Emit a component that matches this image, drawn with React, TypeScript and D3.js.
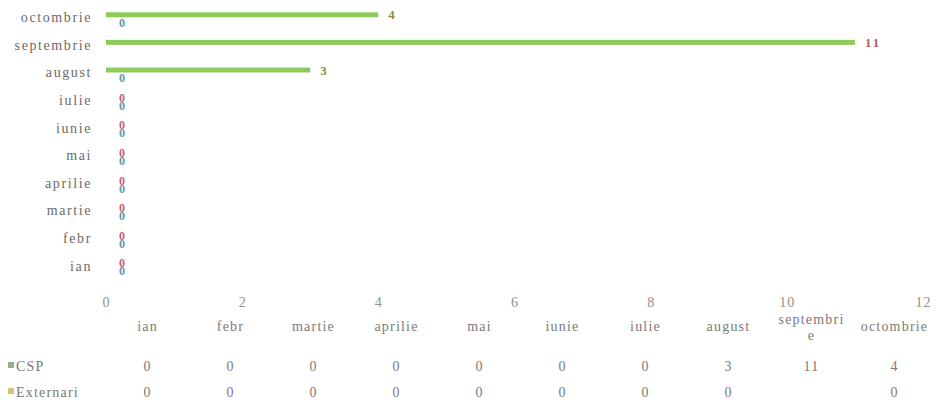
import React, { Component } from "react";
import * as d3 from "d3";

// chart data
const months = ["ian", "febr", "martie", "aprilie", "mai", "iunie", "iulie", "august", "septembrie", "octombrie"];
const tableHeaders = ["ian", "febr", "martie", "aprilie", "mai", "iunie", "iulie", "august", "septembri\ne", "octombrie"];
const csp = [0, 0, 0, 0, 0, 0, 0, 3, 11, 4];
const externari: (number | null)[] = [0, 0, 0, 0, 0, 0, 0, 0, null, 0];
const seriesNames = ["CSP", "Externari"];
const xTicks = [0, 2, 4, 6, 8, 10, 12];

const FONT = "'Liberation Serif', 'DejaVu Serif', serif";

class BarChart extends Component {
  body: React.RefObject<HTMLDivElement | null>;
  width: number;
  height: number;
  xScale: d3.ScaleLinear<number, number>;
  yScale: d3.ScaleBand<string>;
  subScale: d3.ScaleBand<string>;

  constructor(props: any) {
    super(props);
    this.body = React.createRef();
    this.width = 936;
    this.height = 420;
    this.xScale = d3.scaleLinear().domain([0, 12]).range([106, 923]);
    this.yScale = d3
      .scaleBand<string>()
      .domain(months.slice().reverse())
      .range([4, 280])
      .padding(0);
    this.subScale = d3.scaleBand<string>().domain(seriesNames).range([-7, 9]);
  }

  renderAxisX(svg: any) {
    const xAxis = d3
      .axisBottom(this.xScale)
      .tickValues(xTicks)
      .tickSize(0)
      .tickPadding(0);

    const g = svg
      .append("g")
      .attr("class", "x axis")
      .attr("transform", "translate(0, 297)")
      .call(xAxis);
    g.select(".domain").remove();
    g.selectAll("text")
      .style("font-family", FONT)
      .style("font-size", "14px")
      .style("letter-spacing", "1px")
      .attr("fill", "#8f8f8f");
  }

  renderAxisY(svg: any) {
    const yAxis = d3.axisLeft(this.yScale).tickSize(0).tickPadding(0);
    const g = svg
      .append("g")
      .attr("class", "y axis")
      .attr("transform", "translate(92, 0)")
      .call(yAxis);
    g.select(".domain").remove();
    g.selectAll("text")
      .style("font-family", FONT)
      .style("font-size", "14px")
      .style("letter-spacing", "1.6px")
      .attr("fill", "#6a6a6a");
  }

  renderBars(svg: any) {
    const barH = 5;
    const rowY = (m: string, s: string) =>
      (this.yScale(m) as number) + this.yScale.bandwidth() / 2 + (this.subScale(s) as number) + this.subScale.bandwidth() / 2;

    svg
      .selectAll("rect.csp")
      .data(months.map((m, i) => ({ m, v: csp[i] })))
      .enter()
      .append("rect")
      .attr("class", "csp")
      .attr("x", this.xScale(0))
      .attr("y", (d: any) => rowY(d.m, "CSP") - barH / 2)
      .attr("width", (d: any) => this.xScale(d.v) - this.xScale(0))
      .attr("height", barH)
      .attr("fill", "#8fcb5c");

    // data labels
    svg
      .selectAll("text.csp-label")
      .data(months.map((m, i) => ({ m, v: csp[i] })))
      .enter()
      .append("text")
      .attr("class", "csp-label")
      .attr("x", (d: any) => this.xScale(d.v) + (d.v > 0 ? 10 : 16))
      .attr("y", (d: any) => rowY(d.m, "CSP"))
      .attr("dy", "0.35em")
      .attr("text-anchor", (d: any) => (d.v > 0 ? "start" : "middle"))
      .style("font-family", FONT)
      .style("font-weight", "bold")
      .style("font-size", (d: any) => (d.v > 0 ? "13px" : "12px"))
      .style("letter-spacing", (d: any) => (d.v > 0 ? "2px" : "0px"))
      .attr("fill", (d: any) => (d.v === 0 ? "#c0607a" : d.v > 10 ? "#b0615e" : "#948c3e"))
      .text((d: any) => d.v);

    svg
      .selectAll("text.ext-label")
      .data(months.map((m, i) => ({ m, v: externari[i] })).filter((d) => d.v !== null))
      .enter()
      .append("text")
      .attr("class", "ext-label")
      .attr("x", (d: any) => this.xScale(d.v) + 16)
      .attr("y", (d: any) => rowY(d.m, "Externari"))
      .attr("dy", "0.35em")
      .attr("text-anchor", "middle")
      .style("font-family", FONT)
      .style("font-weight", "bold")
      .style("font-size", "12px")
      .attr("fill", "#5a98b4")
      .text((d: any) => d.v);
  }

  renderTable(svg: any) {
    const colScale = d3.scaleBand<string>().domain(months).range([106, 936]);
    const cx = (m: string) => (colScale(m) as number) + colScale.bandwidth() / 2;
    const txt = (sel: any) =>
      sel
        .style("font-family", FONT)
        .style("font-size", "14px")
        .style("letter-spacing", "1.2px")
        .attr("fill", "#7a7a7a")
        .attr("text-anchor", "middle");

    months.forEach((m, i) => {
      const lines = tableHeaders[i].split("\n");
      lines.forEach((line, j) => {
        svg
          .append("text")
          .call(txt)
          .attr("x", cx(m))
          .attr("y", lines.length > 1 ? 324 + j * 16 : 331)
          .text(line);
      });
    });

    const rows = [
      { name: "CSP", values: csp as (number | null)[], color: "#93ad8c", y: 371 },
      { name: "Externari", values: externari, color: "#d6c27e", y: 397 },
    ];
    rows.forEach((r) => {
      svg.append("rect").attr("x", 8).attr("y", r.y - 9).attr("width", 6).attr("height", 6).attr("fill", r.color);
      svg
        .append("text")
        .attr("x", 16)
        .attr("y", r.y)
        .style("font-family", FONT)
        .style("font-size", "14px")
        .style("letter-spacing", "1.2px")
        .attr("fill", "#777")
        .text(r.name);
      months.forEach((m, i) => {
        if (r.values[i] === null) return;
        svg.append("text").call(txt).attr("x", cx(m)).attr("y", r.y).text(r.values[i]);
      });
    });
  }

  componentDidMount() {
    const svg = d3
      .select(this.body.current)
      .append("svg")
      .attr("width", this.width)
      .attr("height", this.height)
      .style("position", "absolute")
      .style("left", "0px")
      .style("top", "0px")
      .style("background", "#ffffff");

    this.renderAxisX(svg);
    this.renderAxisY(svg);
    this.renderBars(svg);
    this.renderTable(svg);
  }

  render() {
    return <div ref={this.body} />;
  }
}

export default function App() {
  return <BarChart />;
}
